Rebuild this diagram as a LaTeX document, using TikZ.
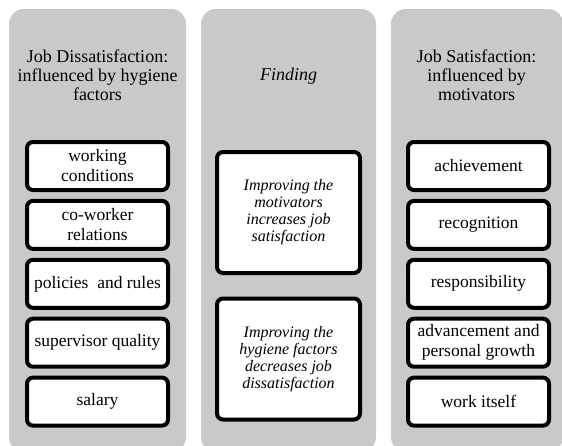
\documentclass[tikz,border=0pt]{standalone}
\usepackage{fontspec}
\setmainfont{Liberation Serif}
\begin{document}
\begin{tikzpicture}[x=1pt, y=-1pt,
  column/.style={fill=black!21, rounded corners=15pt},
  head/.style={align=center, font=\fontsize{18}{19}\selectfont},
  factor/.style={draw, line width=4pt, rounded corners=6pt, fill=white,
    minimum width=141pt, minimum height=48pt, inner sep=1pt, align=center,
    font=\fontsize{17.5}{20}\selectfont},
  finding/.style={factor, minimum width=143pt, minimum height=121pt,
    font=\fontsize{16}{17}\selectfont\itshape},
]
  \useasboundingbox (0,0) rectangle (562,445);
  \clip (0,0) rectangle (562,445);

  % the three panels
  \fill[column] (9,9)   rectangle (186,452);
  \fill[column] (201,9) rectangle (376,452);
  \fill[column] (391,9) rectangle (563,452);

  \node[head] (hyg) at (97.5,75)  {Job Dissatisfaction:\\influenced by hygiene\\factors};
  \node[head] (fnd) at (288.5,76) {\itshape Finding};
  \node[head] (mot) at (476.5,75) {Job Satisfaction:\\influenced by\\motivators};

  % hygiene factors
  \node[factor] (h1) at (97.5,166)   {working\\conditions};
  \node[factor] (h2) at (97.5,224.9) {co-worker\\relations};
  \node[factor] (h3) at (97.5,283.8) {policies\ \ and rules};
  \node[factor] (h4) at (97.5,342.7) {supervisor quality};
  \node[factor] (h5) at (97.5,401.6) {salary};

  % findings
  \node[finding] (f1) at (288.5,212.5) {Improving the\\motivators\\increases job\\satisfaction};
  \node[finding] (f2) at (288.5,359)   {Improving the\\hygiene factors\\decreases job\\dissatisfaction};

  % motivators
  \node[factor] (m1) at (478.5,166)   {achievement};
  \node[factor] (m2) at (478.5,224.9) {recognition};
  \node[factor] (m3) at (478.5,283.8) {responsibility};
  \node[factor] (m4) at (478.5,342.7) {advancement and\\personal growth};
  \node[factor] (m5) at (478.5,401.6) {work itself};
\end{tikzpicture}
\end{document}
